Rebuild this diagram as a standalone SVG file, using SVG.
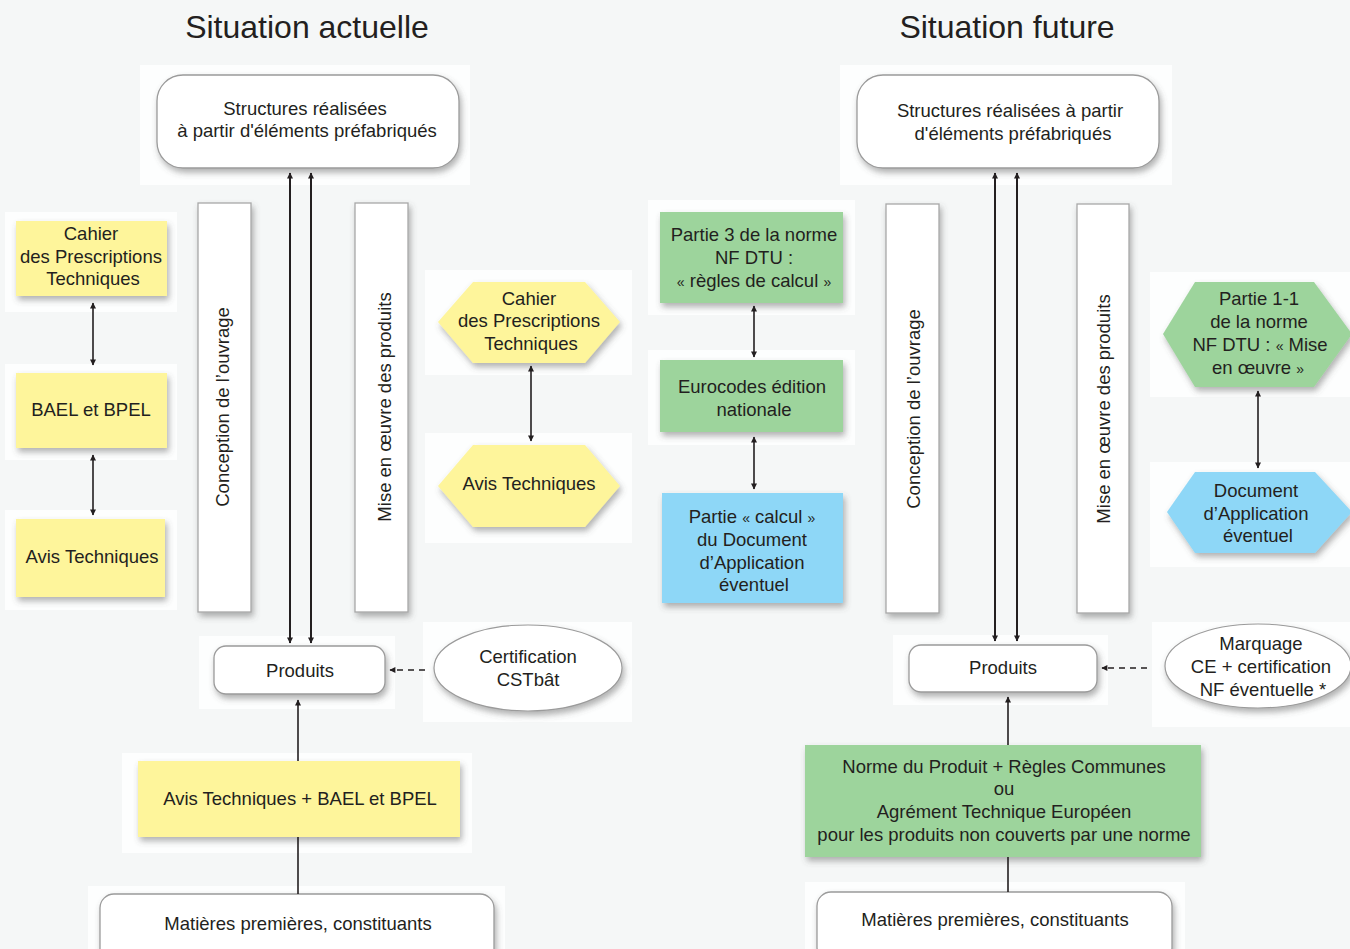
<svg xmlns="http://www.w3.org/2000/svg" width="1350" height="949" viewBox="0 0 1350 949">
<defs>
<style>
text{font-family:"Liberation Sans",Arial,sans-serif;fill:#231f20;text-anchor:middle;}
.t{font-size:18.5px;}
.title{font-size:32px;}
.box{fill:#ffffff;stroke:#9b9b9b;stroke-width:1.3;}
.col{fill:#ffffff;stroke:#a8a8a8;stroke-width:1.3;}
.yel{fill:#fef59b;}
.grn{fill:#9dd49c;}
.blu{fill:#8ed7f7;}
.ell{fill:#ffffff;stroke:#9b9b9b;stroke-width:1.2;}
.pan{fill:#fdfefe;}
.ln{stroke:#231f20;stroke-width:2;fill:none;}
.ln1{stroke:#231f20;stroke-width:1.6;fill:none;}
.dash{stroke:#231f20;stroke-width:1.6;fill:none;stroke-dasharray:6 5;}
.g{font-size:14px;}
</style>
<filter id="sh" x="-20%" y="-20%" width="140%" height="150%">
<feDropShadow dx="2" dy="4" stdDeviation="3" flood-color="#555555" flood-opacity="0.45"/>
</filter>
<marker id="ar" viewBox="0 0 10 10" refX="9" refY="5" markerUnits="userSpaceOnUse" markerWidth="10" markerHeight="6" orient="auto-start-reverse">
<path d="M0,0 L10,5 L0,10 z" fill="#231f20"/>
</marker>
</defs>
<rect x="0" y="0" width="1350" height="949" fill="#f5f7f7"/>

<g id="panels">
<rect class="pan" x="140" y="65" width="330" height="120"/>
<rect class="pan" x="5" y="212" width="172" height="100"/>
<rect class="pan" x="5" y="364" width="172" height="96"/>
<rect class="pan" x="5" y="510" width="172" height="100"/>
<rect class="pan" x="425" y="270" width="207" height="105"/>
<rect class="pan" x="425" y="433" width="207" height="110"/>
<rect class="pan" x="199" y="636" width="196" height="73"/>
<rect class="pan" x="423" y="622" width="209" height="100"/>
<rect class="pan" x="122" y="753" width="350" height="100"/>
<rect class="pan" x="88" y="886" width="417" height="63"/>
<rect class="pan" x="840" y="65" width="332" height="120"/>
<rect class="pan" x="648" y="200" width="207" height="115"/>
<rect class="pan" x="648" y="350" width="207" height="95"/>
<rect class="pan" x="1150" y="272" width="200" height="125"/>
<rect class="pan" x="1150" y="462" width="200" height="105"/>
<rect class="pan" x="893" y="635" width="215" height="70"/>
<rect class="pan" x="1152" y="622" width="198" height="105"/>
<rect class="pan" x="805" y="882" width="380" height="67"/>
</g>

<text class="title" x="307" y="38">Situation actuelle</text>
<text class="title" x="1007" y="38">Situation future</text>

<!-- LEFT SIDE -->
<g id="struct-left">
<rect class="box" x="157" y="75" width="302" height="93" rx="26" filter="url(#sh)"/>
<text class="t" x="305" y="115">Structures réalisées</text>
<text class="t" x="307" y="137">à partir d'éléments préfabriqués</text>
</g>
<g id="conception-left">
<rect class="col" x="198" y="203" width="53" height="409" filter="url(#sh)"/>
<text class="t" transform="translate(222,407) rotate(-90)" y="6.5">Conception de l’ouvrage</text>
</g>
<g id="mise-left">
<rect class="col" x="355" y="203" width="53" height="409" filter="url(#sh)"/>
<text class="t" transform="translate(384,407) rotate(-90)" y="6.5">Mise en œuvre des produits</text>
</g>
<g id="cpt-left">
<rect class="yel" x="16" y="221" width="151" height="75" filter="url(#sh)"/>
<text class="t" x="91" y="240">Cahier</text>
<text class="t" x="91" y="263">des Prescriptions</text>
<text class="t" x="93" y="285">Techniques</text>
</g>
<g id="bael-left">
<rect class="yel" x="16" y="373" width="151" height="75" filter="url(#sh)"/>
<text class="t" x="91" y="416">BAEL et BPEL</text>
</g>
<g id="avis-left">
<rect class="yel" x="16" y="519" width="149" height="78" filter="url(#sh)"/>
<text class="t" x="92" y="563">Avis Techniques</text>
</g>
<g id="cpt-hex">
<polygon class="yel" points="438,322 473,282 585,282 620,322 585,363 473,363" filter="url(#sh)"/>
<text class="t" x="529" y="305">Cahier</text>
<text class="t" x="529" y="327">des Prescriptions</text>
<text class="t" x="531" y="350">Techniques</text>
</g>
<g id="avis-hex">
<polygon class="yel" points="438,486 473,445 585,445 620,486 585,527 473,527" filter="url(#sh)"/>
<text class="t" x="529" y="490">Avis Techniques</text>
</g>
<g id="produits-left">
<rect class="box" x="214" y="646" width="171" height="48" rx="12" filter="url(#sh)"/>
<text class="t" x="300" y="677">Produits</text>
</g>
<g id="cert-left">
<ellipse class="ell" cx="528" cy="668" rx="94" ry="43" filter="url(#sh)"/>
<text class="t" x="528" y="663">Certification</text>
<text class="t" x="528" y="686">CSTbât</text>
</g>
<g id="avisbael">
<rect class="yel" x="138" y="761" width="322" height="76" filter="url(#sh)"/>
<text class="t" x="300" y="805">Avis Techniques + BAEL et BPEL</text>
</g>
<g id="matieres-left">
<rect class="box" x="100" y="894" width="394" height="70" rx="14" filter="url(#sh)"/>
<text class="t" x="298" y="930">Matières premières, constituants</text>
</g>

<!-- MIDDLE -->
<g id="partie3">
<rect class="grn" x="660" y="212" width="183" height="91" filter="url(#sh)"/>
<text class="t" x="754" y="241">Partie 3 de la norme</text>
<text class="t" x="754" y="264">NF DTU :</text>
<text class="t" x="754" y="287"><tspan class="g">«</tspan> règles de calcul <tspan class="g">»</tspan></text>
</g>
<g id="eurocodes">
<rect class="grn" x="660" y="360" width="183" height="72" filter="url(#sh)"/>
<text class="t" x="752" y="393">Eurocodes édition</text>
<text class="t" x="754" y="416">nationale</text>
</g>
<g id="partie-calcul">
<rect class="blu" x="662" y="493" width="181" height="110" filter="url(#sh)"/>
<text class="t" x="752" y="523">Partie <tspan class="g">«</tspan> calcul <tspan class="g">»</tspan></text>
<text class="t" x="752" y="546">du Document</text>
<text class="t" x="752" y="569">d’Application</text>
<text class="t" x="754" y="591">éventuel</text>
</g>

<!-- RIGHT SIDE -->
<g id="struct-right">
<rect class="box" x="857" y="75" width="302" height="93" rx="26" filter="url(#sh)"/>
<text class="t" x="1010" y="117">Structures réalisées à partir</text>
<text class="t" x="1013" y="140">d'éléments préfabriqués</text>
</g>
<g id="conception-right">
<rect class="col" x="886" y="204" width="53" height="409" filter="url(#sh)"/>
<text class="t" transform="translate(913,409) rotate(-90)" y="6.5">Conception de l’ouvrage</text>
</g>
<g id="mise-right">
<rect class="col" x="1077" y="204" width="52" height="409" filter="url(#sh)"/>
<text class="t" transform="translate(1103,409) rotate(-90)" y="6.5">Mise en œuvre des produits</text>
</g>
<g id="partie11-hex">
<polygon class="grn" points="1163,334 1195,282 1314,282 1352,334 1314,387 1195,387" filter="url(#sh)"/>
<text class="t" x="1259" y="305">Partie 1-1</text>
<text class="t" x="1259" y="328">de la norme</text>
<text class="t" x="1260" y="351">NF DTU : <tspan class="g">«</tspan> Mise</text>
<text class="t" x="1258" y="374">en œuvre <tspan class="g">»</tspan></text>
</g>
<g id="docapp-hex">
<polygon class="blu" points="1167,512 1195,472 1315,472 1352,512 1315,553 1195,553" filter="url(#sh)"/>
<text class="t" x="1256" y="497">Document</text>
<text class="t" x="1256" y="520">d’Application</text>
<text class="t" x="1258" y="542">éventuel</text>
</g>
<g id="produits-right">
<rect class="box" x="909" y="645" width="188" height="47" rx="12" filter="url(#sh)"/>
<text class="t" x="1003" y="674">Produits</text>
</g>
<g id="marquage">
<ellipse class="ell" cx="1258" cy="666" rx="93" ry="42" filter="url(#sh)"/>
<text class="t" x="1261" y="650">Marquage</text>
<text class="t" x="1261" y="673">CE + certification</text>
<text class="t" x="1263" y="696">NF éventuelle *</text>
</g>
<g id="norme-produit">
<rect class="grn" x="805" y="745" width="396" height="112" filter="url(#sh)"/>
<text class="t" x="1004" y="773">Norme du Produit + Règles Communes</text>
<text class="t" x="1004" y="795">ou</text>
<text class="t" x="1004" y="818">Agrément Technique Européen</text>
<text class="t" x="1004" y="841">pour les produits non couverts par une norme</text>
</g>
<g id="matieres-right">
<rect class="box" x="817" y="892" width="355" height="70" rx="14" filter="url(#sh)"/>
<text class="t" x="995" y="926">Matières premières, constituants</text>
</g>

<g id="connectors">
<line class="ln" x1="290" y1="173" x2="290" y2="643" marker-start="url(#ar)" marker-end="url(#ar)"/>
<line class="ln" x1="311" y1="173" x2="311" y2="643" marker-start="url(#ar)" marker-end="url(#ar)"/>
<line class="ln1" x1="93" y1="303" x2="93" y2="365" marker-start="url(#ar)" marker-end="url(#ar)"/>
<line class="ln1" x1="93" y1="455" x2="93" y2="515" marker-start="url(#ar)" marker-end="url(#ar)"/>
<line class="ln1" x1="531" y1="366" x2="531" y2="441" marker-start="url(#ar)" marker-end="url(#ar)"/>
<line class="dash" x1="425" y1="670" x2="390" y2="670" marker-end="url(#ar)"/>
<line class="ln1" x1="298" y1="761" x2="298" y2="700" marker-end="url(#ar)"/>
<line class="ln1" x1="298" y1="837" x2="298" y2="894"/>
<line class="ln1" x1="754" y1="306" x2="754" y2="357" marker-start="url(#ar)" marker-end="url(#ar)"/>
<line class="ln1" x1="754" y1="437" x2="754" y2="489" marker-start="url(#ar)" marker-end="url(#ar)"/>
<line class="ln" x1="995" y1="173" x2="995" y2="641" marker-start="url(#ar)" marker-end="url(#ar)"/>
<line class="ln" x1="1017" y1="173" x2="1017" y2="641" marker-start="url(#ar)" marker-end="url(#ar)"/>
<line class="ln1" x1="1258" y1="391" x2="1258" y2="468" marker-start="url(#ar)" marker-end="url(#ar)"/>
<line class="dash" x1="1147" y1="668" x2="1102" y2="668" marker-end="url(#ar)"/>
<line class="ln1" x1="1008" y1="745" x2="1008" y2="697" marker-end="url(#ar)"/>
<line class="ln1" x1="1008" y1="857" x2="1008" y2="892"/>
</g>
</svg>
